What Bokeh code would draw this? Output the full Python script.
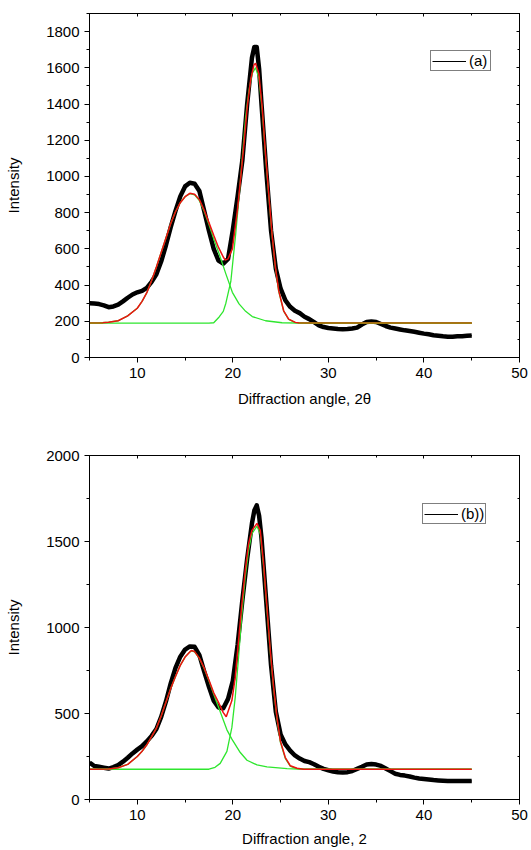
import math
from bokeh.plotting import figure
from bokeh.models import Range1d, LinearAxis, SingleIntervalTicker, Legend, LegendItem
from bokeh.layouts import column
from bokeh.embed import file_html
from bokeh.resources import INLINE

NAN = float("nan")

# ---------------- Panel (a) ----------------
data_a_x = [5.0, 5.5, 6.0, 6.5, 7.0, 7.5, 8.0, 8.5, 9.0, 9.5, 10.0, 10.5, 11.0, 11.5, 12.0, 12.5,
            13.0, 13.5, 14.0, 14.5, 15.0, 15.5, 16.0, 16.5, 17.0, 17.5, 18.0, 18.5, 19.0, 19.5,
            20.0, 20.5, 21.0, 21.5, 22.0, 22.25, 22.5, 22.75, 23.0, 23.5, 24.0, 24.5, 25.0, 25.5,
            26.0, 26.5, 27.0, 27.5, 28.0, 28.5, 29.0, 29.5, 30.0, 30.5, 31.0, 31.5, 32.0, 32.5,
            33.0, 33.5, 34.0, 34.5, 35.0, 35.5, 36.0, 36.5, 37.0, 37.5, 38.0, 38.5, 39.0, 39.5,
            40.0, 40.5, 41.0, 41.5, 42.0, 42.5, 43.0, 43.5, 44.0, 44.5, 45.0]
data_a_y = [300, 298, 295, 288, 278, 282, 292, 310, 330, 348, 360, 368, 385, 418, 460, 530,
            620, 720, 810, 890, 945, 965, 960, 920, 810, 700, 600, 535, 518, 545,
            705, 890, 1090, 1400, 1655, 1715, 1715, 1595, 1400, 1030, 700, 490, 380, 315,
            280, 258, 245, 225, 212, 195, 178, 168, 163, 160, 157, 156, 157, 160,
            165, 182, 196, 199, 196, 185, 174, 165, 160, 155, 150, 146, 142, 137,
            132, 128, 123, 120, 117, 115, 115, 117, 118, 120, 122]

fit_a_x = [5, 6, 7, 8, 9, 10, 10.5, 11, 11.5, 12, 12.5, 13, 13.5, 14, 14.5, 15, 15.5, 16, 16.5,
           17, 17.5, 18, 18.5, 19, 19.2, 19.5, 19.95, 20.47, 20.83, 21.17, 21.51, 21.86, 22.2,
           22.38, 22.72, 23.07, 23.42, 23.76, 24.1, 24.46, 24.8, 25.32, 25.84, 26.54, 27, 45]
fit_a_y = [190, 191, 195, 203, 230, 272, 310, 358, 425, 500, 580, 660, 740, 805, 855, 888, 907,
           902, 872, 815, 745, 675, 608, 555, 538, 545, 600, 810, 996, 1181, 1385, 1532, 1615,
           1625, 1568, 1385, 1126, 904, 683, 498, 369, 258, 212, 194, 190, 190]

amorph_a_x = [5, 6, 7, 8, 9, 10, 10.5, 11, 11.5, 12, 12.5, 13, 13.5, 14, 14.5, 15, 15.5, 16, 16.5,
              17, 17.5, 18, 18.57, 19.27, 19.95, 20.65, 21.34, 22.03, 23.42, 25.15, 27, 45]
amorph_a_y = [190, 191, 195, 203, 230, 272, 310, 358, 425, 500, 580, 660, 740, 805, 855, 888, 905,
              898, 866, 808, 735, 655, 572, 462, 360, 296, 255, 226, 203, 192, 190, 190]

cryst_a_x = [5, 17.5, 18, 18.57, 19.0, 19.27, 19.79, 20.3, 20.65, 21.0, 21.34, 21.69, 22.03, 22.38,
             22.72, 23.07, 23.42, 23.76, 24.1, 24.46, 24.8, 25.32, 25.84, 26.54, 27.5, 45]
cryst_a_y = [190, 190, 192, 224, 255, 300, 420, 683, 886, 1110, 1329, 1477, 1569, 1601,
             1543, 1367, 1113, 894, 676, 493, 365, 256, 211, 193, 190, 190]

base_a_x = [5, 6.4, NAN, 26.9, 45]
base_a_y = [190, 190, NAN, 190, 190]

# ---------------- Panel (b) ----------------
data_b_x = list(data_a_x)
data_b_y = [215, 195, 190, 185, 180, 188, 200, 220, 243, 268, 290, 310, 338, 370, 410, 480,
            570, 675, 765, 830, 872, 890, 888, 840, 745, 655, 574, 535, 530, 585,
            690, 900, 1160, 1400, 1605, 1680, 1710, 1650, 1520, 1150, 780, 510, 378, 320,
            284, 256, 238, 224, 217, 205, 190, 178, 170, 163, 158, 157, 159, 166,
            178, 190, 203, 206, 203, 195, 180, 165, 150, 143, 139, 134, 127, 122,
            119, 116, 113, 111, 109, 107, 107, 107, 107, 107, 108]

fit_b_x = [5, 7, 8, 9, 10, 10.5, 11, 11.5, 12, 12.5, 13, 13.5, 14, 14.5, 15, 15.5, 15.67, 16, 16.5,
           17, 17.5, 18, 18.5, 19, 19.31, 19.9, 20.25, 20.6, 20.95, 21.3, 21.65, 22.0, 22.53,
           22.87, 23.22, 23.57, 23.92, 24.27, 24.62, 24.97, 25.49, 26.02, 26.72, 27.41, 45]
fit_b_y = [176, 177, 185, 204, 250, 280, 318, 365, 415, 485, 565, 645, 715, 780, 828, 858, 866,
           860, 822, 765, 695, 620, 565, 505, 481, 575, 710, 924, 1138, 1332, 1488, 1565, 1605,
           1565, 1371, 1118, 866, 652, 477, 341, 244, 196, 182, 176, 176]

amorph_b_x = [5, 7, 8, 9, 10, 10.5, 11, 11.5, 12, 12.5, 13, 13.5, 14, 14.5, 15, 15.5, 15.67, 16,
              16.5, 17, 17.5, 18, 18.68, 19.38, 19.9, 20.78, 21.48, 22.53, 23.57, 25.67, 27.5, 45]
amorph_b_y = [176, 177, 185, 204, 250, 280, 318, 365, 415, 485, 565, 645, 715, 780, 828, 858, 864,
              858, 820, 762, 690, 612, 510, 405, 351, 273, 228, 201, 190, 180, 176, 176]

cryst_b_x = [5, 17.5, 18.14, 18.68, 19.38, 19.9, 20.25, 20.6, 20.95, 21.3, 21.65, 22.0, 22.53,
             22.87, 23.22, 23.57, 23.92, 24.27, 24.62, 24.97, 25.49, 26.02, 26.72, 27.41, 45]
cryst_b_y = [176, 176, 187, 210, 280, 419, 594, 827, 1080, 1293, 1449, 1546, 1589,
             1544, 1354, 1104, 854, 642, 469, 334, 239, 192, 180, 176, 176]

# ---------------- Labels ----------------
y_label = "Intensity"
x_label_a = "Diffraction angle, 2\u03b8"
x_label_b = "Diffraction angle, 2"
legend_a = "(a)"
legend_b = "(b))"

FONT = "Liberation Sans"
FS = "15px"
RED = "#EE1010"
GREEN = "#2EE62E"
OLIVE = "#A07C12"


def make_panel(height, top, bottom, right, y_end, y_step, data_x, data_y, fit_x, fit_y,
               am_x, am_y, cr_x, cr_y, legend_label, legend_loc, x_label, xlab_standoff,
               base_x=None, base_y=None):
    p = figure(width=531, height=height, x_range=Range1d(5, 50), y_range=Range1d(0, y_end),
               output_backend="svg", toolbar_location=None,
               min_border_left=89, min_border_right=right, min_border_top=top,
               min_border_bottom=bottom)
    p.xgrid.visible = False
    p.ygrid.visible = False
    p.outline_line_color = "black"
    p.outline_line_width = 1
    p.background_fill_color = "white"
    p.border_fill_color = "white"

    xa = p.xaxis[0]
    xa.ticker = SingleIntervalTicker(interval=10, num_minor_ticks=2)
    ya = p.yaxis[0]
    ya.ticker = SingleIntervalTicker(interval=y_step, num_minor_ticks=2)
    for ax in (xa, ya):
        ax.axis_line_color = "black"
        ax.major_tick_line_color = "black"
        ax.minor_tick_line_color = "black"
        ax.major_tick_out = 5
        ax.major_tick_in = 0
        ax.minor_tick_out = 3
        ax.minor_tick_in = 0
        ax.major_label_text_font = FONT
        ax.major_label_text_font_size = FS
        ax.major_label_text_color = "black"
        ax.axis_label_text_font = FONT
        ax.axis_label_text_font_size = FS
        ax.axis_label_text_font_style = "normal"
        ax.axis_label_text_color = "black"
        ax.major_label_standoff = 5
    xa.axis_label = x_label
    xa.axis_label_standoff = xlab_standoff
    ya.axis_label = y_label
    ya.axis_label_standoff = 21

    for loc, step in (("above", 10), ("right", y_step)):
        ax = LinearAxis(ticker=SingleIntervalTicker(interval=step, num_minor_ticks=2),
                        major_tick_in=3, major_tick_out=0, minor_tick_in=2, minor_tick_out=0,
                        major_label_text_font_size="0px", major_label_text_color=None,
                        major_label_standoff=0, axis_line_color="black",
                        major_tick_line_color="black", minor_tick_line_color="black")
        p.add_layout(ax, loc)

    p.line(data_x, data_y, line_color="black", line_width=4.5, line_join="round")
    leg_r = p.line(data_x, data_y, line_color="black", line_width=1)
    p.line(am_x, am_y, line_color=GREEN, line_width=1.3)
    p.line(cr_x, cr_y, line_color=GREEN, line_width=1.3)
    p.line(fit_x, fit_y, line_color=RED, line_width=1.5)
    if base_x is not None:
        p.line(base_x, base_y, line_color=OLIVE, line_width=1.6)

    legend = Legend(items=[LegendItem(label=legend_label, renderers=[leg_r])],
                    location=legend_loc, border_line_color="black", border_line_width=1,
                    padding=1, spacing=0, margin=0, glyph_width=34, glyph_height=14,
                    label_height=14, label_standoff=3, label_text_font=FONT,
                    label_text_font_size=FS, label_text_color="black",
                    background_fill_color="white", background_fill_alpha=1)
    p.add_layout(legend)
    return p


p1 = make_panel(420, 13, 63, 10, 1900, 200, data_a_x, data_a_y, fit_a_x, fit_a_y,
                amorph_a_x, amorph_a_y, cryst_a_x, cryst_a_y, legend_a, (341, 286),
                x_label_a, 9, base_a_x, base_a_y)
p2 = make_panel(430, 35, 51, 12, 2000, 500, data_b_x, data_b_y, fit_b_x, fit_b_y,
                amorph_b_x, amorph_b_y, cryst_b_x, cryst_b_y, legend_b, (333, 275),
                x_label_b, 7)

layout = column(p1, p2)
open("out.html", "w").write(file_html(layout, INLINE))
